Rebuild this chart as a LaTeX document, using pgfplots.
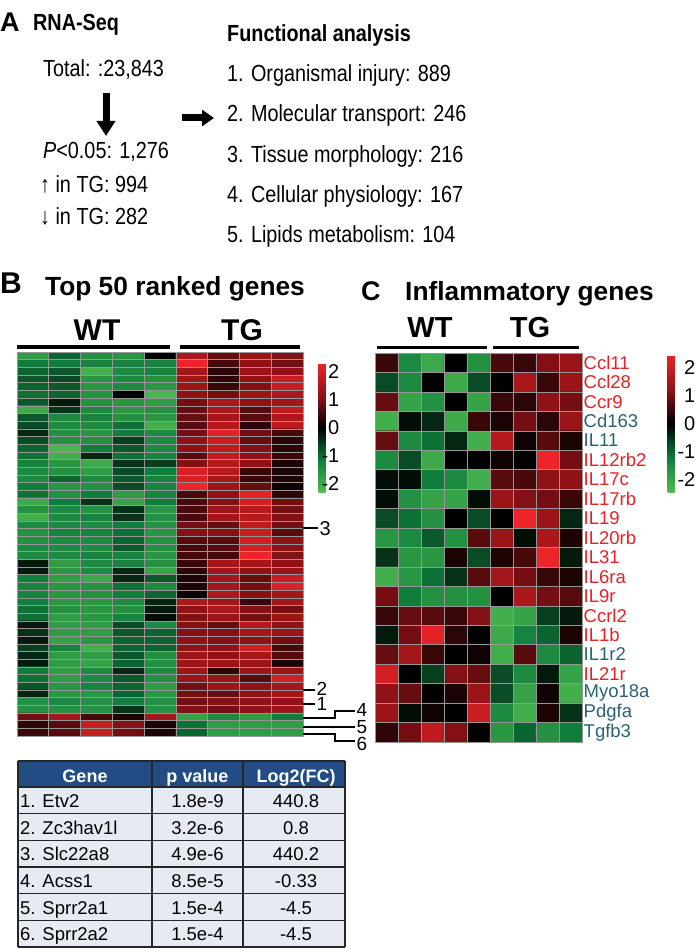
\documentclass[border=0pt]{standalone}
\usepackage{pgfplots}
\pgfplotsset{compat=1.18}
\usepackage{fontspec}
\setmainfont{Liberation Sans}
\newfontfamily\narrowfont[FakeStretch=0.85]{Liberation Sans}
\usetikzlibrary{arrows.meta}
\newcommand{\fs}[1]{\fontsize{#1}{#1}\selectfont}
\definecolor{gred}{RGB}{226,35,40}
\definecolor{gteal}{RGB}{42,98,118}
\definecolor{hdr}{RGB}{33,76,132}
\definecolor{rowc}{RGB}{229,234,243}
\definecolor{cellg}{RGB}{150,150,150}
\pgfplotsset{
  colormap={rg}{rgb255(0)=(80,188,80); rgb255(1)=(15,125,60); rgb255(2)=(0,0,0); rgb255(3)=(145,18,22); rgb255(4)=(237,36,40)},
  heat/.style={scale only axis, anchor=north west, enlargelimits=false,
    y dir=reverse, xtick=\empty, major tick length=0pt, axis on top,
    axis line style={cellg, line width=0.6pt},
    colormap name=rg, point meta min=-2, point meta max=2, colorbar},
}
\begin{document}
\begin{tikzpicture}[x=1pt,y=1pt]
\useasboundingbox (0,0) rectangle (699,-949);
% ---------------- Panel A
\node[anchor=base west, inner sep=0] at (0,-32) {\fs{27pt}\bfseries A};
\node[anchor=base west, inner sep=0] at (33,-31) {\narrowfont\fs{23.3pt}\bfseries RNA-Seq};
\node[anchor=base west, inner sep=0] at (43,-77) {\narrowfont\fs{23.3pt}Total: :23,843};
\draw[line width=7pt, -{Triangle[width=18pt,length=15pt]}] (106,-93) -- (106,-136);
\node[anchor=base west, inner sep=0] at (43,-159) {\narrowfont\fs{23.3pt}\textit{P}<0.05: 1,276};
\node[anchor=base west, inner sep=0] at (40,-193) {\narrowfont\fs{23.3pt}↑ in TG: 994};
\node[anchor=base west, inner sep=0] at (40,-225) {\narrowfont\fs{23.3pt}↓ in TG: 282};
\draw[line width=7pt, -{Triangle[width=16pt,length=12pt]}] (182,-118) -- (214,-118);
\node[anchor=base west, inner sep=0] at (227,-42) {\narrowfont\fs{23.3pt}\bfseries Functional analysis};
\node[anchor=base west, inner sep=0] at (227,-82) {\narrowfont\fs{23.3pt}1. Organismal injury: 889};
\node[anchor=base west, inner sep=0] at (227,-122) {\narrowfont\fs{23.3pt}2. Molecular transport: 246};
\node[anchor=base west, inner sep=0] at (227,-163) {\narrowfont\fs{23.3pt}3. Tissue morphology: 216};
\node[anchor=base west, inner sep=0] at (227,-203) {\narrowfont\fs{23.3pt}4. Cellular physiology: 167};
\node[anchor=base west, inner sep=0] at (227,-243) {\narrowfont\fs{23.3pt}5. Lipids metabolism: 104};
% ---------------- Panel B
\node[anchor=base west, inner sep=0] at (0,-294) {\fs{30pt}\bfseries B};
\node[anchor=base west, inner sep=0] at (45,-295) {\fs{26.3pt}\bfseries Top 50 ranked genes};
\node[anchor=base, inner sep=0] at (97,-340) {\fs{30pt}\bfseries WT};
\node[anchor=base, inner sep=0] at (242,-340) {\fs{30pt}\bfseries TG};
\draw[line width=3.5pt] (17,-347) -- (170,-347);
\draw[line width=3.5pt] (180,-347) -- (300,-347);
\begin{scope}[x=1cm,y=1cm]
\begin{axis}[heat, at={(17pt,-352pt)}, width=286pt, height=384pt,
  xmin=-0.5, xmax=8.5, ymin=-0.5, ymax=49.5, ytick=\empty,
  colorbar style={at={(parent axis.north east)}, anchor=north west, xshift=7pt, yshift=-11pt,
    scale only axis, width=7pt, height=129pt, axis line style={draw=none}, major tick length=0pt,
    ytick={-1.74,-0.87,0,0.87,1.74}, yticklabels={-2,-1,0,1,2},
    yticklabel style={font=\fs{20pt}, anchor=east, inner sep=0pt, xshift=14pt}}]
\addplot[matrix plot*, mesh/cols=9, point meta=explicit] coordinates {
(0,0)[-1.5] (1,0)[-0.8] (2,0)[-1.3] (3,0)[-1.4] (4,0)[0] (5,0)[1.3] (6,0)[0.7] (7,0)[1.1] (8,0)[0.9]

(0,1)[-1.0] (1,1)[-1.0] (2,1)[-1.1] (3,1)[-1.1] (4,1)[-1.1] (5,1)[2.0] (6,1)[0.5] (7,1)[1.0] (8,1)[0.8]

(0,2)[-0.8] (1,2)[-0.7] (2,2)[-1.8] (3,2)[-1.2] (4,2)[-1.1] (5,2)[1.2] (6,2)[0.3] (7,2)[1.1] (8,2)[1.0]

(0,3)[-0.7] (1,3)[-0.6] (2,3)[-1.4] (3,3)[-1.2] (4,3)[-1.3] (5,3)[1.2] (6,3)[0.3] (7,3)[1.0] (8,3)[1.6]

(0,4)[-0.8] (1,4)[-0.7] (2,4)[-1.4] (3,4)[-1.2] (4,4)[-1.4] (5,4)[1.1] (6,4)[0.4] (7,4)[0.9] (8,4)[1.6]

(0,5)[-0.9] (1,5)[-0.8] (2,5)[-1.3] (3,5)[0] (4,5)[-1.9] (5,5)[1.0] (6,5)[0.8] (7,5)[1.1] (8,5)[1.3]

(0,6)[-0.7] (1,6)[-0.2] (2,6)[-1.3] (3,6)[-1.4] (4,6)[-1.5] (5,6)[0.8] (6,6)[1.3] (7,6)[1.0] (8,6)[1.2]

(0,7)[-1.7] (1,7)[-0.4] (2,7)[-1.2] (3,7)[-1.4] (4,7)[-1.3] (5,7)[0.7] (6,7)[1.3] (7,7)[0.6] (8,7)[1.5]

(0,8)[-0.7] (1,8)[-1.2] (2,8)[-1.1] (3,8)[-1.3] (4,8)[-1.4] (5,8)[0.7] (6,8)[1.2] (7,8)[0.6] (8,8)[1.3]

(0,9)[-0.6] (1,9)[-1.2] (2,9)[-1.2] (3,9)[-0.9] (4,9)[-1.8] (5,9)[0.6] (6,9)[1.4] (7,9)[0.3] (8,9)[1.5]

(0,10)[-0.3] (1,10)[-1.3] (2,10)[-1.4] (3,10)[-1.0] (4,10)[-1.2] (5,10)[0.8] (6,10)[1.9] (7,10)[0.8] (8,10)[0.5]

(0,11)[-0.6] (1,11)[-1.3] (2,11)[-1.3] (3,11)[-0.5] (4,11)[-1.2] (5,11)[1.0] (6,11)[1.6] (7,11)[0.7] (8,11)[0.3]

(0,12)[-0.8] (1,12)[-1.9] (2,12)[-1.0] (3,12)[-0.7] (4,12)[-1.2] (5,12)[1.0] (6,12)[1.5] (7,12)[0.9] (8,12)[0.3]

(0,13)[-0.9] (1,13)[-1.8] (2,13)[-0.3] (3,13)[-0.9] (4,13)[-1.1] (5,13)[0.6] (6,13)[1.5] (7,13)[1.0] (8,13)[0.4]

(0,14)[-1.1] (1,14)[-1.4] (2,14)[-1.7] (3,14)[-0.4] (4,14)[-0.5] (5,14)[0.9] (6,14)[1.4] (7,14)[1.0] (8,14)[0.2]

(0,15)[-1.2] (1,15)[-1.3] (2,15)[-1.5] (3,15)[-0.6] (4,15)[-1.0] (5,15)[1.8] (6,15)[1.4] (7,15)[0.4] (8,15)[0.2]

(0,16)[-1.2] (1,16)[-0.8] (2,16)[-1.2] (3,16)[-0.7] (4,16)[-1.1] (5,16)[1.8] (6,16)[1.2] (7,16)[0.4] (8,16)[0.2]

(0,17)[-1.0] (1,17)[-1.4] (2,17)[-1.3] (3,17)[-0.6] (4,17)[-1.1] (5,17)[2.0] (6,17)[1.1] (7,17)[0.7] (8,17)[0.1]

(0,18)[-0.9] (1,18)[-1.3] (2,18)[-1.0] (3,18)[-1.5] (4,18)[-1.1] (5,18)[0.5] (6,18)[1.0] (7,18)[1.9] (8,18)[0.3]

(0,19)[-1.7] (1,19)[-1.0] (2,19)[-0.4] (3,19)[-1.6] (4,19)[-1.0] (5,19)[0.5] (6,19)[0.9] (7,19)[1.7] (8,19)[0.8]

(0,20)[-1.3] (1,20)[-1.2] (2,20)[-1.3] (3,20)[-0.4] (4,20)[-1.4] (5,20)[0.5] (6,20)[1.1] (7,20)[1.4] (8,20)[0.8]

(0,21)[-1.8] (1,21)[-1.2] (2,21)[-1.1] (3,21)[-0.4] (4,21)[-1.3] (5,21)[0.5] (6,21)[1.2] (7,21)[1.4] (8,21)[0.9]

(0,22)[-1.2] (1,22)[-1.2] (2,22)[-1.2] (3,22)[-1.0] (4,22)[-1.3] (5,22)[0.8] (6,22)[0.7] (7,22)[1.5] (8,22)[0.8]

(0,23)[-1.3] (1,23)[-1.1] (2,23)[-1.1] (3,23)[-0.9] (4,23)[-1.4] (5,23)[0.9] (6,23)[0.9] (7,23)[1.6] (8,23)[0.6]

(0,24)[-1.3] (1,24)[-1.2] (2,24)[-1.2] (3,24)[-0.8] (4,24)[-1.3] (5,24)[0.6] (6,24)[0.6] (7,24)[1.7] (8,24)[1.0]

(0,25)[-1.2] (1,25)[-1.2] (2,25)[-1.2] (3,25)[-0.7] (4,25)[-1.3] (5,25)[0.5] (6,25)[0.6] (7,25)[1.7] (8,25)[1.0]

(0,26)[-1.2] (1,26)[-1.2] (2,26)[-1.1] (3,26)[-1.1] (4,26)[-1.4] (5,26)[0.5] (6,26)[0.5] (7,26)[2.0] (8,26)[0.9]

(0,27)[-0.2] (1,27)[-1.5] (2,27)[-1.2] (3,27)[-1.1] (4,27)[-1.3] (5,27)[0.4] (6,27)[1.2] (7,27)[1.2] (8,27)[1.0]

(0,28)[-0.2] (1,28)[-1.4] (2,28)[-1.2] (3,28)[-0.3] (4,28)[-1.6] (5,28)[0.3] (6,28)[1.2] (7,28)[1.0] (8,28)[1.1]

(0,29)[-1.0] (1,29)[-1.5] (2,29)[-1.7] (3,29)[-0.3] (4,29)[-0.7] (5,29)[0.2] (6,29)[1.2] (7,29)[0.7] (8,29)[1.6]

(0,30)[-1.1] (1,30)[-1.4] (2,30)[-1.3] (3,30)[-0.9] (4,30)[-1.2] (5,30)[0.2] (6,30)[1.2] (7,30)[0.8] (8,30)[1.8]

(0,31)[-1.1] (1,31)[-1.4] (2,31)[-1.3] (3,31)[-1.0] (4,31)[-0.8] (5,31)[0.1] (6,31)[1.3] (7,31)[0.9] (8,31)[1.2]

(0,32)[-1.0] (1,32)[-1.4] (2,32)[-1.4] (3,32)[-1.2] (4,32)[-0.3] (5,32)[1.3] (6,32)[1.2] (7,32)[0.4] (8,32)[1.2]

(0,33)[-0.9] (1,33)[-1.3] (2,33)[-1.4] (3,33)[-1.3] (4,33)[-0.2] (5,33)[1.0] (6,33)[1.3] (7,33)[0.9] (8,33)[0.8]

(0,34)[-0.9] (1,34)[-1.5] (2,34)[-1.4] (3,34)[-1.1] (4,34)[-0.1] (5,34)[0.9] (6,34)[1.1] (7,34)[0.8] (8,34)[1.1]

(0,35)[-0.2] (1,35)[-1.5] (2,35)[-1.5] (3,35)[-0.6] (4,35)[-1.2] (5,35)[0.9] (6,35)[0.7] (7,35)[1.4] (8,35)[1.0]

(0,36)[-0.4] (1,36)[-1.5] (2,36)[-1.5] (3,36)[-0.7] (4,36)[-0.8] (5,36)[0.9] (6,36)[0.9] (7,36)[1.2] (8,36)[1.1]

(0,37)[-0.2] (1,37)[-1.6] (2,37)[-1.4] (3,37)[-0.8] (4,37)[-0.8] (5,37)[1.0] (6,37)[0.9] (7,37)[1.0] (8,37)[0.8]

(0,38)[-0.5] (1,38)[-1.1] (2,38)[-1.8] (3,38)[-0.8] (4,38)[-0.8] (5,38)[1.0] (6,38)[1.0] (7,38)[1.7] (8,38)[0.5]

(0,39)[-0.3] (1,39)[-1.5] (2,39)[-1.5] (3,39)[-0.7] (4,39)[-1.3] (5,39)[1.1] (6,39)[1.0] (7,39)[1.2] (8,39)[0.6]

(0,40)[-0.2] (1,40)[-1.5] (2,40)[-1.6] (3,40)[-0.8] (4,40)[-1.3] (5,40)[1.1] (6,40)[1.1] (7,40)[1.1] (8,40)[0.2]

(0,41)[-1.0] (1,41)[-1.5] (2,41)[-1.2] (3,41)[-0.3] (4,41)[-1.2] (5,41)[1.1] (6,41)[0.3] (7,41)[1.1] (8,41)[1.1]

(0,42)[-0.9] (1,42)[-1.5] (2,42)[-1.2] (3,42)[-0.7] (4,42)[-1.3] (5,42)[1.1] (6,42)[1.1] (7,42)[0.6] (8,42)[1.7]

(0,43)[-0.7] (1,43)[-1.4] (2,43)[-1.1] (3,43)[-0.8] (4,43)[-1.5] (5,43)[0.8] (6,43)[1.1] (7,43)[1.0] (8,43)[1.2]

(0,44)[-0.3] (1,44)[-1.4] (2,44)[-1.4] (3,44)[-0.8] (4,44)[-1.4] (5,44)[0.8] (6,44)[0.7] (7,44)[1.0] (8,44)[1.2]

(0,45)[-1.3] (1,45)[-1.2] (2,45)[-1.3] (3,45)[-1.0] (4,45)[-1.3] (5,45)[0.8] (6,45)[0.9] (7,45)[1.0] (8,45)[1.0]

(0,46)[-1.3] (1,46)[-1.3] (2,46)[-1.3] (3,46)[-0.4] (4,46)[-1.3] (5,46)[0.9] (6,46)[0.8] (7,46)[1.0] (8,46)[1.1]

(0,47)[0.8] (1,47)[1.2] (2,47)[0.5] (3,47)[0.2] (4,47)[1.2] (5,47)[-1.6] (6,47)[-1.2] (7,47)[-1.5] (8,47)[-1.0]

(0,48)[0.3] (1,48)[0.6] (2,48)[1.6] (3,48)[0.9] (4,48)[0.2] (5,48)[-0.9] (6,48)[-1.5] (7,48)[-1.5] (8,48)[-1.5]

(0,49)[0.4] (1,49)[0.6] (2,49)[1.6] (3,49)[0.8] (4,49)[0.2] (5,49)[-0.8] (6,49)[-1.5] (7,49)[-1.5] (8,49)[-1.5]
};
\pgfplotsinvokeforeach{0.5,1.5,...,7.5}{\draw[cellg, line width=0.6pt] (axis cs:#1,-0.5) -- (axis cs:#1,49.5);}
\pgfplotsinvokeforeach{0.5,1.5,...,48.5}{\draw[cellg, line width=0.5pt] (axis cs:-0.5,#1) -- (axis cs:8.5,#1);}
\end{axis}
\end{scope}
% labels 1-6
\begin{scope}[line width=1.2pt]
\draw (303,-528) -- (318,-528);
\node[anchor=west, inner sep=0] at (319,-529) {\fs{20pt}3};
\draw (303,-690) -- (315,-690);
\node[anchor=west, inner sep=0] at (316,-689) {\fs{19pt}2};
\draw (303,-704) -- (315,-704);
\node[anchor=west, inner sep=0] at (316,-704) {\fs{19pt}1};
\draw (303,-718) -- (335,-718) -- (335,-711) -- (355,-711);
\node[anchor=west, inner sep=0] at (356,-710) {\fs{19pt}4};
\draw (303,-727) -- (355,-727);
\node[anchor=west, inner sep=0] at (356,-727) {\fs{19pt}5};
\draw (303,-734) -- (335,-734) -- (335,-741) -- (355,-741);
\node[anchor=west, inner sep=0] at (356,-744) {\fs{19pt}6};
\end{scope}
% ---------------- Table
\fill[hdr] (18,-761) rectangle (345,-787);
\fill[rowc] (18,-787) rectangle (345,-947);
\begin{scope}[line width=1.3pt, black!85]
\foreach \yy in {761,787,813.67,840.33,867,893.67,920.33,947} {\draw (18,-\yy) -- (345,-\yy);}
\foreach \xx in {18,152,243,345} {\draw (\xx,-761) -- (\xx,-947);}
\end{scope}
\node[anchor=base, inner sep=0, white] at (85,-782) {\fs{18pt}\bfseries Gene};
\node[anchor=base, inner sep=0, white] at (197.5,-782) {\fs{18pt}\bfseries p value};
\node[anchor=base, inner sep=0, white] at (296,-782) {\fs{18pt}\bfseries Log2(FC)};
\foreach \g/\p/\l [count=\i from 0] in {1. Etv2/1.8e-9/440.8, 2. Zc3hav1l/3.2e-6/0.8, 3. Slc22a8/4.9e-6/440.2, 4. Acss1/8.5e-5/-0.33, 5. Sprr2a1/1.5e-4/-4.5, 6. Sprr2a2/1.5e-4/-4.5} {
  \pgfmathsetmacro{\yb}{-(787+26.67*\i+20.5)}
  \node[anchor=base west, inner sep=0] at (20,\yb) {\fs{18.5pt}\g};
  \node[anchor=base, inner sep=0] at (197.5,\yb) {\fs{18.5pt}\p};
  \node[anchor=base, inner sep=0] at (296,\yb) {\fs{18.5pt}\l};
}
% ---------------- Panel C
\node[anchor=base west, inner sep=0] at (361,-300) {\fs{27pt}\bfseries C};
\node[anchor=base west, inner sep=0] at (405,-300) {\fs{26.3pt}\bfseries Inflammatory genes};
\node[anchor=base, inner sep=0] at (430,-337) {\fs{29pt}\bfseries WT};
\node[anchor=base, inner sep=0] at (530,-337) {\fs{29pt}\bfseries TG};
\draw[line width=3.5pt] (377,-347.5) -- (487,-347.5);
\draw[line width=3.5pt] (493,-347.5) -- (579,-347.5);
\begin{scope}[x=1cm,y=1cm]
\begin{axis}[heat, at={(375pt,-353pt)}, width=207pt, height=389pt,
  xmin=-0.5, xmax=8.5, ymin=-0.5, ymax=19.5,
  ytick={0,1,...,19}, yticklabel pos=right,
  yticklabels={{\color{gred}Ccl11},{\color{gred}Ccl28},{\color{gred}Ccr9},{\color{gteal}Cd163},{\color{gteal}IL11},{\color{gred}IL12rb2},{\color{gred}IL17c},{\color{gred}IL17rb},{\color{gred}IL19},{\color{gred}IL20rb},{\color{gred}IL31},{\color{gred}IL6ra},{\color{gred}IL9r},{\color{gred}Ccrl2},{\color{gred}IL1b},{\color{gteal}IL1r2},{\color{gred}IL21r},{\color{gteal}Myo18a},{\color{gteal}Pdgfa},{\color{gteal}Tgfb3}},
  yticklabel style={font=\fs{18.5pt}, anchor=west, inner sep=0pt, xshift=1.5pt},
  colorbar style={at={(parent axis.north east)}, anchor=north west, xshift=77pt, yshift=-2pt,
    scale only axis, width=7pt, height=137pt, axis line style={draw=none}, major tick length=0pt,
    ytick={-1.635,-0.82,0,0.82,1.635}, yticklabels={-2,-1,0,1,2},
    yticklabel style={font=\fs{20pt}, anchor=east, inner sep=0pt, xshift=21pt}}]
\addplot[matrix plot*, mesh/cols=9, point meta=explicit] coordinates {
(0,0)[0.4] (1,0)[-1.2] (2,0)[-1.7] (3,0)[0.0] (4,0)[-1.3] (5,0)[0.5] (6,0)[0.4] (7,0)[0.9] (8,0)[1.1]

(0,1)[-0.6] (1,1)[-1.2] (2,1)[0.0] (3,1)[-1.7] (4,1)[-0.6] (5,1)[0.0] (6,1)[1.3] (7,1)[0.4] (8,1)[1.1]

(0,2)[0.7] (1,2)[-1.6] (2,2)[-1.3] (3,2)[0.0] (4,2)[-1.6] (5,2)[0.4] (6,2)[0.3] (7,2)[1.0] (8,2)[0.8]

(0,3)[-1.8] (1,3)[-0.1] (2,3)[-0.3] (3,3)[-1.7] (4,3)[0.4] (5,3)[0.2] (6,3)[0.8] (7,3)[0.3] (8,3)[1.1]

(0,4)[0.7] (1,4)[-1.2] (2,4)[-0.9] (3,4)[-0.3] (4,4)[-1.8] (5,4)[1.4] (6,4)[0.1] (7,4)[0.6] (8,4)[0.2]

(0,5)[-1.2] (1,5)[-0.6] (2,5)[-1.7] (3,5)[0.0] (4,5)[0.0] (5,5)[0.1] (6,5)[0.0] (7,5)[2.0] (8,5)[0.8]

(0,6)[-0.1] (1,6)[-0.1] (2,6)[-1.0] (3,6)[-1.2] (4,6)[-1.8] (5,6)[0.6] (6,6)[0.5] (7,6)[1.0] (8,6)[1.0]

(0,7)[-0.1] (1,7)[-1.3] (2,7)[-1.6] (3,7)[-1.6] (4,7)[-0.1] (5,7)[1.1] (6,7)[0.9] (7,7)[0.8] (8,7)[0.4]

(0,8)[-0.6] (1,8)[-0.9] (2,8)[-1.3] (3,8)[0.0] (4,8)[-0.6] (5,8)[0.0] (6,8)[2.0] (7,8)[1.1] (8,8)[-0.3]

(0,9)[-1.4] (1,9)[-1.2] (2,9)[-0.7] (3,9)[-1.3] (4,9)[0.6] (5,9)[1.1] (6,9)[-0.1] (7,9)[1.3] (8,9)[0.2]

(0,10)[-0.4] (1,10)[-1.4] (2,10)[-1.4] (3,10)[0.2] (4,10)[-0.6] (5,10)[0.2] (6,10)[0.5] (7,10)[2.0] (8,10)[-0.2]

(0,11)[-1.8] (1,11)[-1.4] (2,11)[-0.9] (3,11)[-0.4] (4,11)[0.6] (5,11)[1.2] (6,11)[0.8] (7,11)[0.4] (8,11)[0.2]

(0,12)[0.8] (1,12)[-1.0] (2,12)[-1.3] (3,12)[-1.3] (4,12)[-1.3] (5,12)[0.0] (6,12)[1.3] (7,12)[0.8] (8,12)[0.6]

(0,13)[0.4] (1,13)[0.7] (2,13)[0.6] (3,13)[0.4] (4,13)[0.9] (5,13)[-1.8] (6,13)[-1.6] (7,13)[-0.5] (8,13)[-0.2]

(0,14)[-0.2] (1,14)[0.8] (2,14)[1.9] (3,14)[0.3] (4,14)[0.0] (5,14)[-1.7] (6,14)[-1.1] (7,14)[-0.8] (8,14)[0.2]

(0,15)[0.7] (1,15)[1.2] (2,15)[0.4] (3,15)[0.0] (4,15)[0.1] (5,15)[-1.8] (6,15)[0.6] (7,15)[-1.2] (8,15)[-0.8]

(0,16)[1.7] (1,16)[0.0] (2,16)[-0.5] (3,16)[0.9] (4,16)[0.7] (5,16)[-0.6] (6,16)[-1.2] (7,16)[-0.2] (8,16)[-1.6]

(0,17)[1.0] (1,17)[0.7] (2,17)[0.0] (3,17)[0.2] (4,17)[1.1] (5,17)[-0.6] (6,17)[-1.6] (7,17)[0.1] (8,17)[-1.8]

(0,18)[1.1] (1,18)[-0.1] (2,18)[0.1] (3,18)[0.0] (4,18)[1.6] (5,18)[-1.2] (6,18)[-1.8] (7,18)[0.2] (8,18)[-0.4]

(0,19)[0.3] (1,19)[0.8] (2,19)[1.5] (3,19)[0.9] (4,19)[0.0] (5,19)[-1.4] (6,19)[-0.8] (7,19)[-1.3] (8,19)[-1.0]
};
\pgfplotsinvokeforeach{0.5,1.5,...,7.5}{\draw[cellg, line width=0.6pt] (axis cs:#1,-0.5) -- (axis cs:#1,19.5);}
\pgfplotsinvokeforeach{0.5,1.5,...,18.5}{\draw[cellg, line width=0.6pt] (axis cs:-0.5,#1) -- (axis cs:8.5,#1);}
\end{axis}
\end{scope}
\end{tikzpicture}
\end{document}
